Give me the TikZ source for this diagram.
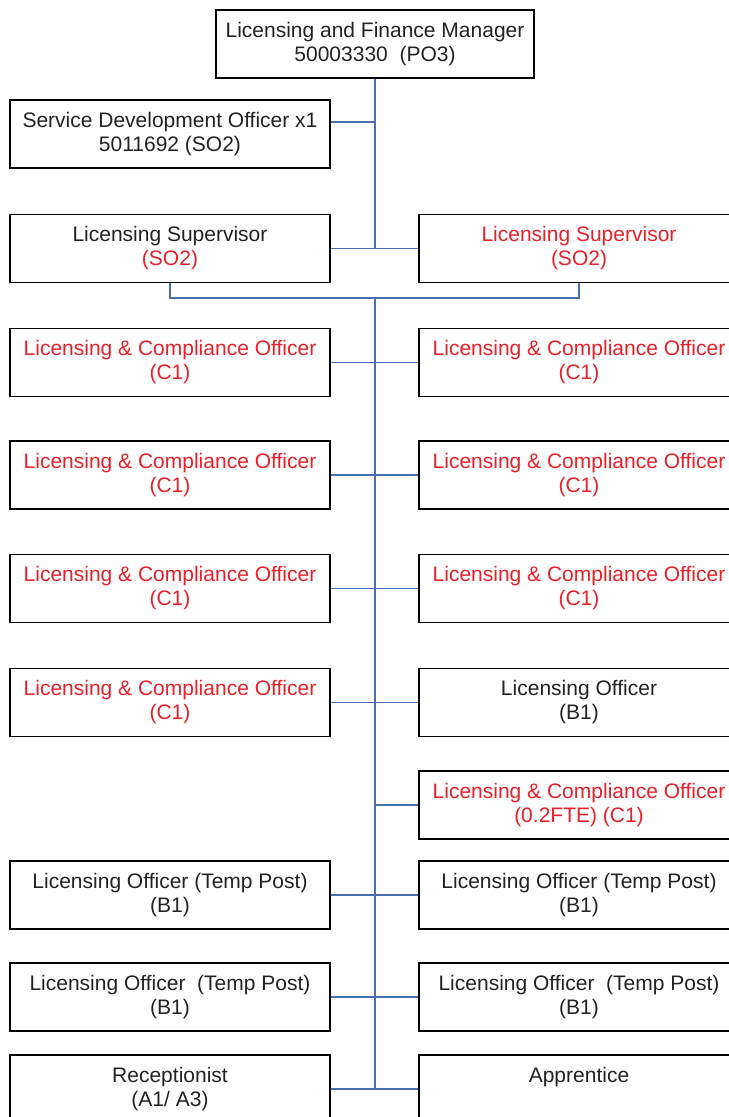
\documentclass[tikz,border=0pt]{standalone}
\usepackage{fontspec}
\setmainfont{Liberation Sans}
\usetikzlibrary{positioning}

\definecolor{linkblue}{HTML}{4A6FB0}
\definecolor{postred}{HTML}{E8202A}
\definecolor{postgrey}{HTML}{222222}

\def\leftcol{170}
\def\rightcol{579}
\def\trunk{375}

\begin{document}
\begin{tikzpicture}[x=0.5pt,y=-0.5pt,font=\fontsize{10.5}{12}\selectfont]
    \tikzstyle{post}=[draw=black,line width=0.8pt,minimum width=160pt,minimum height=34pt,inner sep=0pt,align=center,text=postgrey]
    \tikzstyle{vacant post}=[post,text=postred]
    \tikzstyle{link}=[draw=linkblue,line width=0.6pt]

    \useasboundingbox (0,0) rectangle (728,1117);

    % Draw the manager and the officer beside him
    \node[post,minimum width=159pt] (M) at (\trunk,44) {Licensing and Finance Manager\\50003330~ (PO3)};
    \node[post] (SDO) at (\leftcol,134) {Service Development Officer x1\\5011692 (SO2)};

    % Draw the supervisors
    \node[post] (S-L) at (\leftcol,248.5) {Licensing Supervisor\\\textcolor{postred}{(SO2)}};
    \node[vacant post] (S-R) at (\rightcol,248.5) {Licensing Supervisor\\(SO2)};

    % Draw the compliance officers on both sides
    \foreach \name / \y in {1/362.5,2/475,3/588.5}
    {
        \node[vacant post] (L-\name) at (\leftcol,\y) {Licensing \& Compliance Officer\\(C1)};
        \node[vacant post] (R-\name) at (\rightcol,\y) {Licensing \& Compliance Officer\\(C1)};
    }
    \node[vacant post] (L-4) at (\leftcol,702.5) {Licensing \& Compliance Officer\\(C1)};
    \node[post] (R-4) at (\rightcol,702.5) {Licensing Officer\\(B1)};
    \node[vacant post] (R-5) at (\rightcol,805) {Licensing \& Compliance Officer\\(0.2FTE) (C1)};

    % Draw the temporary posts and the front desk
    \node[post] (L-6) at (\leftcol,895) {Licensing Officer (Temp Post)\\(B1)};
    \node[post] (R-6) at (\rightcol,895) {Licensing Officer (Temp Post)\\(B1)};
    \node[post] (L-7) at (\leftcol,997) {Licensing Officer~ (Temp Post)\\(B1)};
    \node[post] (R-7) at (\rightcol,997) {Licensing Officer~ (Temp Post)\\(B1)};
    \node[post] (L-8) at (\leftcol,1089) {Receptionist\\(A1/ A3)};
    \node[post] (R-8) at (\rightcol,1089) {Apprentice\\\phantom{(B1)}};

    % Connect the manager to the supervisors
    \coordinate (sup) at (\trunk,248.5);
    \coordinate (bus) at (\trunk,298);
    \coordinate (end) at (\trunk,1089);
    \path[link] (M.south) edge (sup);
    \path[link] ([yshift=6pt]SDO.east) edge ([yshift=6pt]SDO.east -| sup);
    \path[link] (S-L.east) edge (S-R.west);
    \draw[link] (S-L.south) |- (bus) -| (S-R.south);

    % Connect every row to the trunk
    \path[link] (bus) edge (end);
    \foreach \name in {1,2,3,4,6,7,8}
        \path[link] (L-\name.east) edge (R-\name.west);
    \path[link] (R-5.west) edge (R-5.west -| end);
\end{tikzpicture}
\end{document}
